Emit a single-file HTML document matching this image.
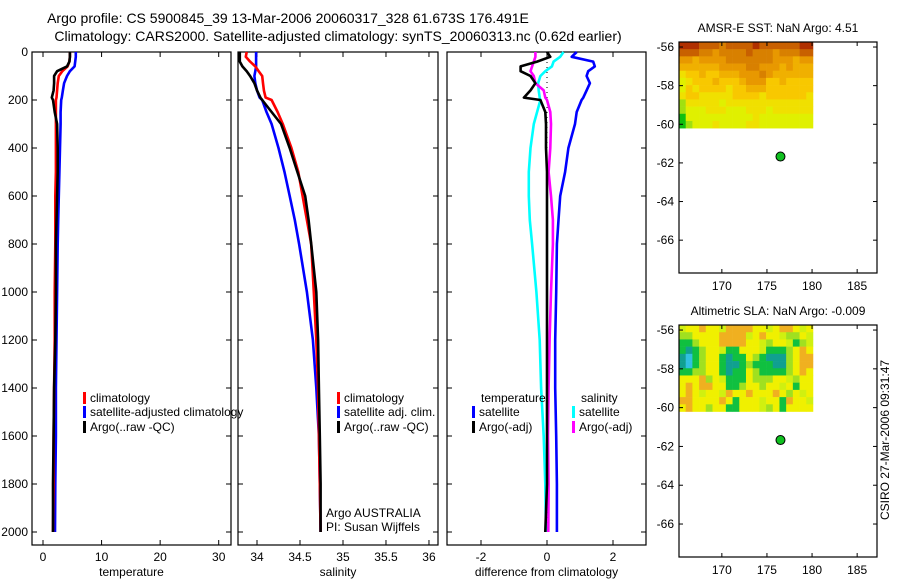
<!DOCTYPE html>
<html><head><meta charset="utf-8"><style>
html,body{margin:0;padding:0;background:#fff;}
svg{display:block;font-family:"Liberation Sans",sans-serif;}
</style></head><body>
<svg id="fig" width="900" height="580" viewBox="0 0 900 580"></svg>
<script>
// ---- data ----
const depths = [0,20,40,60,80,100,130,160,190,200,250,300,400,500,600,700,800,1000,1200,1400,1600,1800,2000];
const tempArgo = [4.6,4.6,4.5,4.1,2.4,1.9,1.9,1.8,1.5,1.7,2.0,2.4,2.5,2.5,2.4,2.3,2.2,2.2,2.1,1.9,1.8,1.7,1.7];
const tempClim = [4.6,4.6,4.5,4.2,3.3,2.7,2.5,2.4,2.3,2.2,2.2,2.2,2.2,2.2,2.1,2.1,2.1,2.0,2.0,1.9,1.8,1.8,1.7];
const tempSat  = [5.6,5.6,5.5,5.4,4.6,4.1,3.6,3.4,3.2,3.1,3.0,3.0,2.9,2.8,2.7,2.6,2.5,2.4,2.3,2.2,2.2,2.1,2.05];
const salArgo = [33.80,33.80,33.80,33.83,33.88,33.92,33.97,34.00,34.04,34.06,34.17,34.28,34.38,34.47,34.56,34.60,34.63,34.69,34.71,34.72,34.73,34.74,34.74];
const salClim = [33.88,33.87,33.92,33.98,34.02,34.06,34.07,34.08,34.10,34.17,34.24,34.30,34.40,34.48,34.53,34.58,34.63,34.66,34.69,34.71,34.72,34.73,34.74];
const salSat  = [33.99,33.99,33.99,33.99,33.98,33.97,33.98,34.00,34.03,34.06,34.11,34.17,34.25,34.32,34.38,34.44,34.49,34.58,34.65,34.69,34.72,34.73,34.74];
const dTempArgo = [0,0.1,-0.3,-0.8,-0.8,-0.5,-0.35,-0.5,-0.7,-0.2,-0.05,-0.03,-0.03,0,0,0,0,0,0,0,0,0,-0.05];
const dTempSat  = [0.9,0.75,1.4,1.45,1.25,1.2,1.3,1.2,1.1,1.05,0.9,0.85,0.65,0.55,0.4,0.35,0.3,0.28,0.25,0.25,0.28,0.3,0.3];
const dSalSat   = [0.5,0.4,0.2,0.15,-0.05,-0.2,-0.27,-0.25,-0.22,-0.2,-0.3,-0.4,-0.5,-0.55,-0.55,-0.52,-0.45,-0.32,-0.22,-0.18,-0.1,-0.05,-0.03];
const dSalArgo  = [-0.35,-0.35,-0.4,-0.45,-0.5,-0.4,-0.35,-0.1,-0.05,0,0.1,0.12,0.1,0.05,0.12,0.18,0.18,0.12,0.08,0.05,0.03,0.05,0.04];
const tempTicks = [0,10,20,30];
const salTicks = [34,34.5,35,35.5,36];
const salTickLabels = ["34","34.5","35","35.5","36"];
const diffTicks = [-2,0,2];
const depthTicks = [0,200,400,600,800,1000,1200,1400,1600,1800,2000];
const latTicks = [-56,-58,-60,-62,-64,-66];
const lonTicks = [170,175,180,185];
const argoLon = 176.5, argoLat = -61.67;
// SST grid (rows north->south, 0=green ... 9=dark red), lon 165.2-180, lat -55.7 to -60.2
const sstGrid = [
"99988878888988888899",
"88877677778777677788",
"66566667777777666566",
"55555566667766656555",
"34454455566676555555",
"23444544456664454444",
"24344443445554444444",
"34433333444434444443",
"13333323333333333333",
"12223332223332333333",
"02222222222322222222",
"01222322223322222222"];
// SLA grid (0=cyan,1=teal,2=green,3=light green,4=yellow,5=orange,6=yellow-green)
const slaGrid = [
"64454465555446455464",
"33444455556454463346",
"22344455554463446236",
"21234462244462223454",
"10234421224321113455",
"10234421123222113455",
"22334421224322223454",
"44453462224333446344",
"45455442234434464244",
"45464465445444543464",
"55444454244464425446",
"45443442244463424444"];
const sstColors = ["#10c010","#a0e010","#e0f000","#f0e000","#f8c800","#f0b000","#e89800","#d88000","#c86000","#b03000"];
const slaColors = ["#30c0e0","#10a090","#10c040","#a0e020","#f0f000","#f0b020","#d0f010"];

const svg = document.getElementById('fig');
const NS = 'http://www.w3.org/2000/svg';
function mk(tag, attrs, parent){const e=document.createElementNS(NS,tag);for(const k in attrs)e.setAttribute(k,attrs[k]);(parent||svg).appendChild(e);return e;}
function txt(x,y,s,anchor,parent,size){const t=mk('text',{x:x,y:y,'font-size':size||12,'text-anchor':anchor||'start',fill:'#000'},parent);t.textContent=s;return t;}

// profile axes
const TOP=52, BOT=545;
const yD = d => TOP + d*0.24;
const panels = [
 {name:'temperature-panel', x0:32, x1:231, xmin:-1.88, xmax:32.1, ticks:tempTicks, labels:tempTicks.map(String), label:'temperature', yl:true},
 {name:'salinity-panel', x0:238, x1:438, xmin:33.779, xmax:36.105, ticks:salTicks, labels:salTickLabels, label:'salinity'},
 {name:'difference-panel', x0:447, x1:646, xmin:-3.03, xmax:3.0, ticks:diffTicks, labels:diffTicks.map(String), label:'difference from climatology'}
];
panels.forEach(p=>{
  p.sx = v => p.x0 + (v-p.xmin)/(p.xmax-p.xmin)*(p.x1-p.x0);
  const g = mk('g',{});
  
  
  mk('rect',{x:p.x0,y:TOP,width:p.x1-p.x0,height:BOT-TOP,fill:'none',stroke:'#000','stroke-width':1.2},g);
  p.ticks.forEach((v,i)=>{
    const x=p.sx(v);
    mk('line',{x1:x,y1:BOT,x2:x,y2:BOT-5,stroke:'#000'},g);
    mk('line',{x1:x,y1:TOP,x2:x,y2:TOP+5,stroke:'#000'},g);
    const t=txt(x,561,p.labels[i],'middle',g);
    
    
  });
  depthTicks.forEach(d=>{
    mk('line',{x1:p.x0,y1:yD(d),x2:p.x0+5,y2:yD(d),stroke:'#000'},g);
    mk('line',{x1:p.x1,y1:yD(d),x2:p.x1-5,y2:yD(d),stroke:'#000'},g);
    if(p.yl){const t=txt(p.x0-4,yD(d)+4,String(d),'end',g);
      
      }
  });
  const xl=txt((p.x0+p.x1)/2,576,p.label,'middle',g);
  
  
});
function series(p, vals, color, name){
  const pts = vals.map((v,i)=>p.sx(v).toFixed(1)+','+yD(depths[i]).toFixed(1)).join(' ');
  const l = mk('polyline',{points:pts,fill:'none',stroke:color,'stroke-width':2.6,'stroke-linejoin':'round'});
  
  
}
const [pT,pS,pD]=panels;
series(pT,tempSat,'#0000ff','temp-satellite-line');
series(pT,tempClim,'#ff0000','temp-climatology-line');
series(pT,tempArgo,'#000000','temp-argo-line');
series(pS,salSat,'#0000ff','sal-satellite-line');
series(pS,salClim,'#ff0000','sal-climatology-line');
series(pS,salArgo,'#000000','sal-argo-line');
const zl=mk('line',{x1:pD.sx(0),y1:TOP,x2:pD.sx(0),y2:yD(2000),stroke:'#000','stroke-dasharray':'1,4'});


series(pD,dSalSat,'#00ffff','diff-sal-satellite-line');
series(pD,dTempSat,'#0000ff','diff-temp-satellite-line');
series(pD,dSalArgo,'#ff00ff','diff-sal-argo-line');
series(pD,dTempArgo,'#000000','diff-temp-argo-line');

function legend(x,y,color,label,name){
  const g=mk('g',{});
  
  
  if(color) mk('rect',{x:x,y:y-10,width:3,height:12,fill:color},g);
  txt(x+7,y,label,'start',g);
}
legend(83,402,'#ff0000','climatology','legend-climatology');
legend(83,416,'#0000ff','satellite-adjusted climatology','legend-satellite-adjusted');
legend(83,431,'#000000','Argo(..raw -QC)','legend-argo');
legend(337,402,'#ff0000','climatology','legend-sal-climatology');
legend(337,416,'#0000ff','satellite adj. clim.','legend-sal-satellite');
legend(337,431,'#000000','Argo(..raw -QC)','legend-sal-argo');
legend(474,402,null,'temperature','legend-temp-header');
legend(472,416,'#0000ff','satellite','legend-temp-satellite');
legend(472,431,'#000000','Argo(-adj)','legend-temp-argo');
legend(574,402,null,'salinity','legend-sal-header');
legend(572,416,'#00ffff','satellite','legend-sal-sat');
legend(572,431,'#ff00ff','Argo(-adj)','legend-sal-argo-diff');
const ag=txt(326,517,'Argo AUSTRALIA','start');

const pi=txt(326,531,'PI: Susan Wijffels','start');


const t1=txt(288,23,'Argo profile: CS 5900845_39 13-Mar-2006 20060317_328 61.673S 176.491E','middle',null,14);

const t2=txt(338,41,'Climatology: CARS2000. Satellite-adjusted climatology: synTS_20060313.nc (0.62d earlier)','middle',null,14);


// maps
function map(top,bot,title,grid,colors,name){
  const x0=679,x1=877,lonMin=165.25,lonMax=187.2,latTop=-55.74,latBot=-67.7;
  const sx=v=>x0+(v-lonMin)/(lonMax-lonMin)*(x1-x0);
  const sy=v=>top+(v-latTop)/(latBot-latTop)*(bot-top);
  const g=mk('g',{});
  
  
  const rows=grid.length, cols=grid[0].length;
  const cw=(sx(180.1)-x0)/cols, ch=(sy(-60.2)-top)/rows;
  grid.forEach((r,i)=>{for(let j=0;j<cols;j++){
    const c=mk('rect',{x:(x0+j*cw).toFixed(2),y:(top+i*ch).toFixed(2),width:(cw+0.3).toFixed(2),height:(ch+0.3).toFixed(2),fill:colors[+r[j]]},g);
    
    
  }});
  mk('rect',{x:x0,y:top,width:x1-x0,height:bot-top,fill:'none',stroke:'#000','stroke-width':1.2},g);
  latTicks.forEach(v=>{const y=sy(v);
    mk('line',{x1:x0,y1:y,x2:x0+4,y2:y,stroke:'#000'},g);
    mk('line',{x1:x1,y1:y,x2:x1-4,y2:y,stroke:'#000'},g);
    txt(x0-5,y+4,String(v),'end',g);});
  lonTicks.forEach(v=>{const x=sx(v);
    mk('line',{x1:x,y1:bot,x2:x,y2:bot-4,stroke:'#000'},g);
    mk('line',{x1:x,y1:top,x2:x,y2:top+4,stroke:'#000'},g);
    txt(x,bot+17,String(v),'middle',g);});
  const d=mk('circle',{cx:sx(argoLon),cy:sy(argoLat),r:4.5,fill:'#10c020',stroke:'#000','stroke-width':1},g);
  
  
  txt((x0+x1)/2,top-10,title,'middle',g);
}
map(42,273,'AMSR-E SST: NaN Argo: 4.51',sstGrid,sstColors,'sst-map');
map(325,557,'Altimetric SLA: NaN Argo: -0.009',slaGrid,slaColors,'sla-map');
const cs=txt(0,0,'CSIRO 27-Mar-2006 09:31:47','middle');
cs.setAttribute('transform','translate(889,440) rotate(-90)');


</script>
</body></html>
